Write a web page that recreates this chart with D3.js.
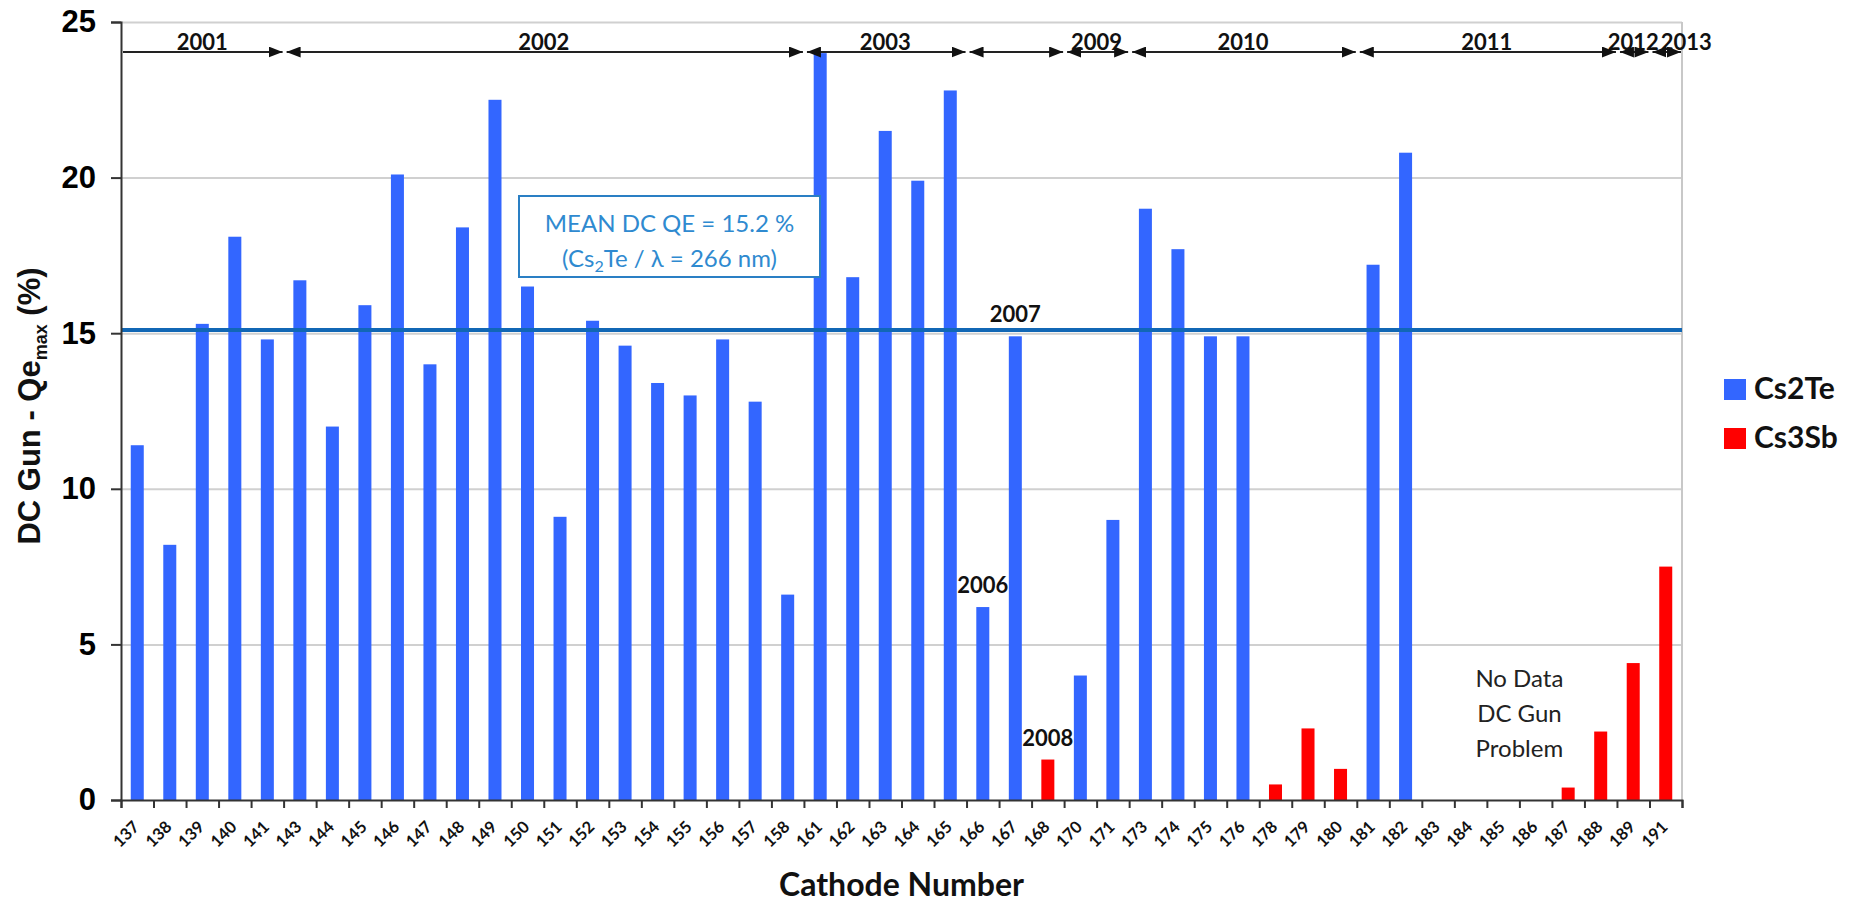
<!DOCTYPE html>
<html>
<head>
<meta charset="utf-8">
<title>DC Gun QE by cathode</title>
<script src="https://cdn.jsdelivr.net/npm/d3@7"></script>
<style>
  body { margin: 0; background: #fff; }
  svg { display: block; }
</style>
</head>
<body>
<svg id="chart" width="1851" height="904"></svg>
<script>
// cathode numbers on the x axis
var cathodes = ["137","138","139","140","141","143","144","145","146","147","148","149","150","151","152",
  "153","154","155","156","157","158","161","162","163","164","165","166","167","168","170","171",
  "173","174","175","176","178","179","180","181","182","183","184","185","186","187","188","189","191"];

// QE max (%) per cathode, null where the cathode is of the other type / no data
var cs2te = [11.4, 8.2, 15.3, 18.1, 14.8, 16.7, 12.0, 15.9, 20.1, 14.0, 18.4, 22.5, 16.5, 9.1, 15.4,
  14.6, 13.4, 13.0, 14.8, 12.8, 6.6, 24.0, 16.8, 21.5, 19.9, 22.8, 6.2, 14.9, null, 4.0, 9.0,
  19.0, 17.7, 14.9, 14.9, null, null, null, 17.2, 20.8, null, null, null, null, null, null, null, null];
var cs3sb = [null, null, null, null, null, null, null, null, null, null, null, null, null, null, null,
  null, null, null, null, null, null, null, null, null, null, null, null, null, 1.3, null, null,
  null, null, null, null, 0.5, 2.3, 1.0, null, null, null, null, null, null, 0.4, 2.2, 4.4, 7.5];

var seriesNames = ["Cs2Te", "Cs3Sb"];
var seriesColors = ["#3366ff", "#ff0000"];

var yTicks = [0, 5, 10, 15, 20, 25];
var meanQE = 15.1;

// year ranges drawn as arrows above the bars
var yearLabels = ["2001", "2002", "2003", "", "2009", "2010", "2011", "2012", "2013"];
var yearFrom   = ["137", "143", "161", "166", "170", "173", "181", "189", "191"];
var yearTo     = ["141", "158", "165", "168", "171", "180", "188", "189", "191"];

// single-year notes above particular bars
var noteCathodes = ["166", "167", "168"];
var noteLabels   = ["2006", "2007", "2008"];

var noDataLines = ["No Data", "DC Gun", "Problem"];

function ready(fn) {
  if (document.readyState != 'loading') { fn() }
  else { document.addEventListener('DOMContentLoaded', fn) }
}
ready(drawChart);

function drawChart() {
  var svg = d3.select("#chart");
  var left = 121, right = 1682, top = 22, bottom = 800;
  var calibri = "Lato, 'Open Sans', sans-serif";
  var arial = "'Liberation Sans', Arial, sans-serif";

  var x = d3.scaleBand().domain(cathodes).range([left, right])
    .paddingInner(0.6).paddingOuter(0.3);
  var gap = (x.step() - x.bandwidth()) / 2;
  var xEdge = d3.scaleLinear().domain([0, cathodes.length]).range([left, right]);
  var y = d3.scaleLinear().domain([0, 25]).range([bottom, top]);

  svg.append("rect").attr("width", 1851).attr("height", 904).attr("fill", "white");

  // gridlines
  svg.append("g")
      .attr("transform", "translate(" + left + ",0)")
      .call(d3.axisLeft(y).tickValues(yTicks.slice(1)).tickSize(-(right - left)).tickFormat(""))
      .call(function(g) { g.select(".domain").remove(); })
      .selectAll("line").attr("stroke", "#d0d0d0").attr("stroke-width", 2);

  // right border of the plot area
  svg.append("line")
      .attr("x1", right).attr("x2", right).attr("y1", top).attr("y2", bottom)
      .attr("stroke", "#c8c8c8").attr("stroke-width", 2);

  // bars
  var bars = cathodes.map(function(c, i) {
    var s = cs2te[i] != null ? 0 : 1;
    return { c: c, v: s === 0 ? cs2te[i] : cs3sb[i], s: s };
  }).filter(function(d) { return d.v != null; });

  svg.append("g").selectAll("rect")
    .data(bars)
    .enter().append("rect")
      .attr("x", function(d) { return x(d.c); })
      .attr("width", x.bandwidth())
      .attr("y", function(d) { return y(d.v); })
      .attr("height", function(d) { return y(0) - y(d.v); })
      .attr("fill", function(d) { return seriesColors[d.s]; });

  // mean line
  svg.append("line")
      .attr("x1", left).attr("x2", right)
      .attr("y1", y(meanQE)).attr("y2", y(meanQE))
      .attr("stroke", "#1167b5").attr("stroke-width", 4);

  // y axis
  var yAxis = svg.append("g")
      .attr("transform", "translate(" + left + ",0)")
      .call(d3.axisLeft(y).tickValues(yTicks).tickSize(10).tickPadding(15));
  yAxis.select(".domain").attr("stroke", "#333").attr("stroke-width", 2);
  yAxis.selectAll(".tick line").attr("stroke", "#333").attr("stroke-width", 2);
  yAxis.selectAll("text")
      .attr("font-family", arial).attr("font-size", 31).attr("font-weight", "bold")
      .attr("fill", "#000");

  // x axis: ticks on the band edges, labels at the band centres
  var xTicks = svg.append("g")
      .attr("transform", "translate(0," + bottom + ")")
      .call(d3.axisBottom(xEdge).tickValues(d3.range(cathodes.length + 1)).tickSize(8).tickFormat(""));
  xTicks.select(".domain").attr("stroke", "#333").attr("stroke-width", 2);
  xTicks.selectAll(".tick line").attr("stroke", "#333").attr("stroke-width", 2);

  var xLabels = svg.append("g")
      .attr("transform", "translate(0," + bottom + ")")
      .call(d3.axisBottom(x).tickSize(0).tickPadding(0));
  xLabels.select(".domain").remove();
  xLabels.selectAll("text")
      .attr("font-family", calibri).attr("font-size", 16.5).attr("font-weight", "bold")
      .attr("fill", "#111")
      .attr("y", 0).attr("dy", 0)
      .attr("text-anchor", "end")
      .attr("transform", "translate(3,28) rotate(-45)");

  // axis titles
  svg.append("text")
      .attr("x", (left + right) / 2).attr("y", 896)
      .attr("text-anchor", "middle")
      .attr("font-family", calibri).attr("font-size", 32).attr("font-weight", "bold")
      .attr("fill", "#111")
      .text("Cathode Number");

  var yTitle = svg.append("text")
      .attr("transform", "translate(40,406) rotate(-90)")
      .attr("text-anchor", "middle")
      .attr("font-family", arial).attr("font-size", 31).attr("font-weight", "bold")
      .attr("fill", "#111");
  yTitle.append("tspan").text("DC Gun - Qe");
  yTitle.append("tspan").attr("font-size", 18).attr("dy", 7).text("max");
  yTitle.append("tspan").attr("dy", -7).text(" (%)");

  // year arrows
  var defs = svg.append("defs");
  defs.append("marker")
      .attr("id", "arrow")
      .attr("markerUnits", "userSpaceOnUse")
      .attr("markerWidth", 14).attr("markerHeight", 11)
      .attr("refX", 14).attr("refY", 5.5)
      .attr("orient", "auto-start-reverse")
    .append("path")
      .attr("d", "M0,0L14,5.5L0,11Z")
      .attr("fill", "#111");

  var lineY = 52;
  var years = yearLabels.map(function(t, i) {
    return { t: t, x0: x(yearFrom[i]) - gap, x1: x(yearTo[i]) + x.bandwidth() + gap, i: i };
  });
  var yg = svg.append("g");
  yg.selectAll("line")
    .data(years)
    .enter().append("line")
      .attr("x1", function(d) { return d.i === 0 ? d.x0 + 2 : d.x0 + 3; })
      .attr("x2", function(d) { return d.x1 - 1; })
      .attr("y1", lineY).attr("y2", lineY)
      .attr("stroke", "#222").attr("stroke-width", 2)
      .attr("marker-start", function(d) { return d.i === 0 ? null : "url(#arrow)"; })
      .attr("marker-end", "url(#arrow)");

  var yearText = yg.selectAll("text")
    .data(years.filter(function(d) { return d.t; }))
    .enter().append("text")
      .attr("x", function(d) { return (d.x0 + d.x1) / 2; })
      .attr("y", lineY - 2)
      .attr("text-anchor", "middle")
      .attr("font-family", calibri).attr("font-size", 22).attr("font-weight", "bold")
      .attr("fill", "#111")
      .text(function(d) { return d.t; });

  // push a year label right if it runs into the one before it
  var prevEnd = -Infinity;
  yearText.each(function() {
    var el = d3.select(this);
    var w = this.getComputedTextLength();
    var cx = +el.attr("x");
    if (cx - w / 2 < prevEnd + 2) {
      cx = prevEnd + 2 + w / 2;
      el.attr("x", cx);
    }
    prevEnd = cx + w / 2;
  });

  // year notes above single bars
  svg.append("g").selectAll("text")
    .data(noteCathodes)
    .enter().append("text")
      .attr("x", function(c) { return x(c) + x.bandwidth() / 2; })
      .attr("y", function(c) {
        var i = cathodes.indexOf(c);
        var v = cs2te[i] != null ? cs2te[i] : cs3sb[i];
        return y(v) - 14;
      })
      .attr("text-anchor", "middle")
      .attr("font-family", calibri).attr("font-size", 22).attr("font-weight", "bold")
      .attr("fill", "#111")
      .text(function(c, i) { return noteLabels[i]; });

  // mean box
  var box = svg.append("g");
  box.append("rect")
      .attr("x", 519).attr("y", 196).attr("width", 301).attr("height", 81)
      .attr("fill", "white").attr("stroke", "#2a7fc4").attr("stroke-width", 2);
  box.append("text")
      .attr("x", 669.5).attr("y", 232)
      .attr("text-anchor", "middle")
      .attr("font-family", calibri).attr("font-size", 24)
      .attr("fill", "#2f8ad0")
      .text("MEAN DC QE = " + "15.2" + " %");
  var l2 = box.append("text")
      .attr("x", 669.5).attr("y", 267)
      .attr("text-anchor", "middle")
      .attr("font-family", calibri).attr("font-size", 24)
      .attr("fill", "#2f8ad0");
  l2.append("tspan").text("(Cs");
  l2.append("tspan").attr("font-size", 16).attr("dy", 5).text("2");
  l2.append("tspan").attr("dy", -5).text("Te / \u03bb = 266 nm)");

  // no data note
  svg.append("g").selectAll("text")
    .data(noDataLines)
    .enter().append("text")
      .attr("x", x("186") - gap)
      .attr("y", function(d, i) { return 687 + i * 35; })
      .attr("text-anchor", "middle")
      .attr("font-family", calibri).attr("font-size", 24)
      .attr("fill", "#222")
      .text(function(d) { return d; });

  // legend
  var lg = svg.append("g").selectAll("g")
    .data(seriesNames)
    .enter().append("g")
      .attr("transform", function(d, i) { return "translate(1724," + (379 + i * 49) + ")"; });
  lg.append("rect")
      .attr("width", 22).attr("height", 21)
      .attr("fill", function(d, i) { return seriesColors[i]; });
  lg.append("text")
      .attr("x", 30).attr("y", 20)
      .attr("font-family", calibri).attr("font-size", 30).attr("font-weight", "bold")
      .attr("fill", "#111")
      .text(function(d) { return d; });
}
</script>
</body>
</html>
